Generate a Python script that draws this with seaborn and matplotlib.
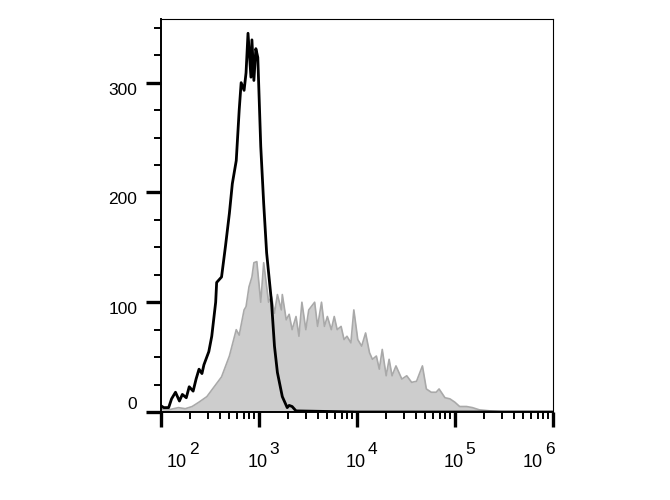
# Flow cytometry overlay histogram: control (black line) vs stained (grey fill)
import numpy as np
import pandas as pd
import matplotlib
matplotlib.use("Agg")
import matplotlib.pyplot as plt
import seaborn as sns
from matplotlib.ticker import FixedLocator, NullFormatter

# log10 fluorescence intensity and event counts
ctrl_log = [1.98, 2.03, 2.08, 2.11, 2.15, 2.19, 2.22, 2.26, 2.29, 2.33, 2.36, 2.39, 2.42,
            2.44, 2.49, 2.52, 2.56, 2.57, 2.62, 2.66, 2.70, 2.73, 2.77, 2.80, 2.82,
            2.85, 2.87, 2.89, 2.92, 2.93, 2.95, 2.97, 2.99, 3.02, 3.05, 3.08, 3.13,
            3.16, 3.19, 3.24, 3.29, 3.31, 3.34, 3.38, 4.0, 5.0, 6.0]
ctrl_count = [7, 4, 4, 12, 18, 10, 16, 13, 23, 19, 30, 39, 35,
              43, 55, 69, 100, 118, 123, 151, 181, 208, 229, 275, 300,
              293, 309, 345, 305, 339, 302, 331, 323, 242, 190, 145, 100,
              60, 36, 14, 4, 6, 5, 1, 0, 0, 0]

stain_log = [1.98, 2.08, 2.18, 2.25, 2.32, 2.39, 2.47, 2.52, 2.57, 2.62, 2.70, 2.77, 2.80,
             2.85, 2.87, 2.90, 2.93, 2.95, 2.98, 3.02, 3.05, 3.10, 3.13, 3.16, 3.19,
             3.23, 3.24, 3.28, 3.31, 3.34, 3.38, 3.41, 3.44, 3.48, 3.51, 3.57, 3.60,
             3.64, 3.67, 3.70, 3.74, 3.77, 3.80, 3.84, 3.87, 3.90, 3.94, 3.97, 4.01,
             4.05, 4.09, 4.13, 4.16, 4.20, 4.23, 4.26, 4.30, 4.33, 4.36, 4.40, 4.46,
             4.51, 4.56, 4.61, 4.67, 4.71, 4.76, 4.81, 4.84, 4.90, 4.95, 5.00, 5.05,
             5.12, 5.18, 5.25, 5.36, 5.50, 6.0]
stain_count = [3, 2, 4, 3, 5, 9, 14, 20, 26, 32, 51, 75, 70,
               93, 96, 114, 123, 136, 137, 100, 136, 100, 105, 90, 107,
               93, 107, 84, 89, 75, 87, 69, 100, 75, 93, 100, 78,
               100, 78, 87, 75, 87, 75, 78, 66, 69, 63, 93, 66,
               60, 72, 54, 48, 51, 39, 57, 33, 48, 33, 42, 30,
               33, 27, 28, 42, 21, 18, 18, 21, 13, 12, 9, 5,
               5, 4, 2, 1, 0, 0]

decades = [2, 3, 4, 5, 6]
y_ticks = [0, 100, 200, 300]

ctrl = pd.DataFrame({"x": np.power(10.0, ctrl_log), "count": ctrl_count})
stain = pd.DataFrame({"x": np.power(10.0, stain_log), "count": stain_count})

sns.set_style("white")
plt.rcParams["font.family"] = ["Liberation Sans", "DejaVu Sans"]

fig = plt.figure(figsize=(6.7, 5), dpi=100)
ax = fig.add_axes([0.240, 0.176, 0.585, 0.786])

# stained sample: grey filled histogram
ax.fill_between(stain["x"], stain["count"], color="#cdcdcd", lw=0, zorder=1)
sns.lineplot(data=stain, x="x", y="count", ax=ax, color="#a9a9a9", lw=1.2,
             sort=False, estimator=None, zorder=2)
# control: black outline
sns.lineplot(data=ctrl, x="x", y="count", ax=ax, color="black", lw=2.0,
             sort=False, estimator=None, zorder=3)

ax.set_xscale("log")
ax.set_xlim(1e2, 1e6)
ax.set_ylim(0, 358)
ax.set_xlabel("")
ax.set_ylabel("")

for s in ax.spines.values():
    s.set_color("black")
    s.set_linewidth(0.8)
ax.spines["left"].set_linewidth(1.4)
ax.spines["bottom"].set_linewidth(1.4)

# x ticks: decades plus log minor ticks
ax.set_xticks([10.0 ** d for d in decades])
ax.set_xticklabels([])
minors = [m * 10.0 ** d for d in decades[:-1] for m in range(2, 10)]
ax.xaxis.set_minor_locator(FixedLocator(minors))
ax.xaxis.set_minor_formatter(NullFormatter())
ax.tick_params(axis="x", which="major", direction="out", length=11, width=2.4,
               bottom=True, top=False, color="black")
ax.tick_params(axis="x", which="minor", direction="out", length=5, width=1.4,
               bottom=True, top=False, color="black")

# decade labels drawn as "10" + raised exponent (px offsets converted to points)
px = 0.72
centre_shift = [16, -1, -1, -1, -20]
for d, dx in zip(decades, centre_shift):
    ax.annotate("10", xy=(10.0 ** d, 0), xycoords=("data", "axes fraction"),
                xytext=(dx * px, -55 * px), textcoords="offset points",
                ha="center", va="baseline", fontsize=13, color="black")
    ax.annotate(str(d), xy=(10.0 ** d, 0), xycoords=("data", "axes fraction"),
                xytext=((dx + 12) * px, -42 * px), textcoords="offset points",
                ha="left", va="baseline", fontsize=12.5, color="black")

# y ticks
ax.set_yticks(y_ticks)
ax.yaxis.set_minor_locator(FixedLocator([v for v in range(25, 358, 25) if v % 100]))
ax.tick_params(axis="y", which="major", direction="out", length=11, width=2.4,
               labelsize=12.5, pad=6, left=True, right=False, color="black",
               labelcolor="black")
ax.tick_params(axis="y", which="minor", direction="out", length=5, width=1.4,
               left=True, right=False, color="black")
for lab in ax.get_yticklabels():
    lab.set_verticalalignment("bottom" if lab.get_text() == "0" else "top")

ax.grid(False)
fig.savefig("out.png", dpi=100)
